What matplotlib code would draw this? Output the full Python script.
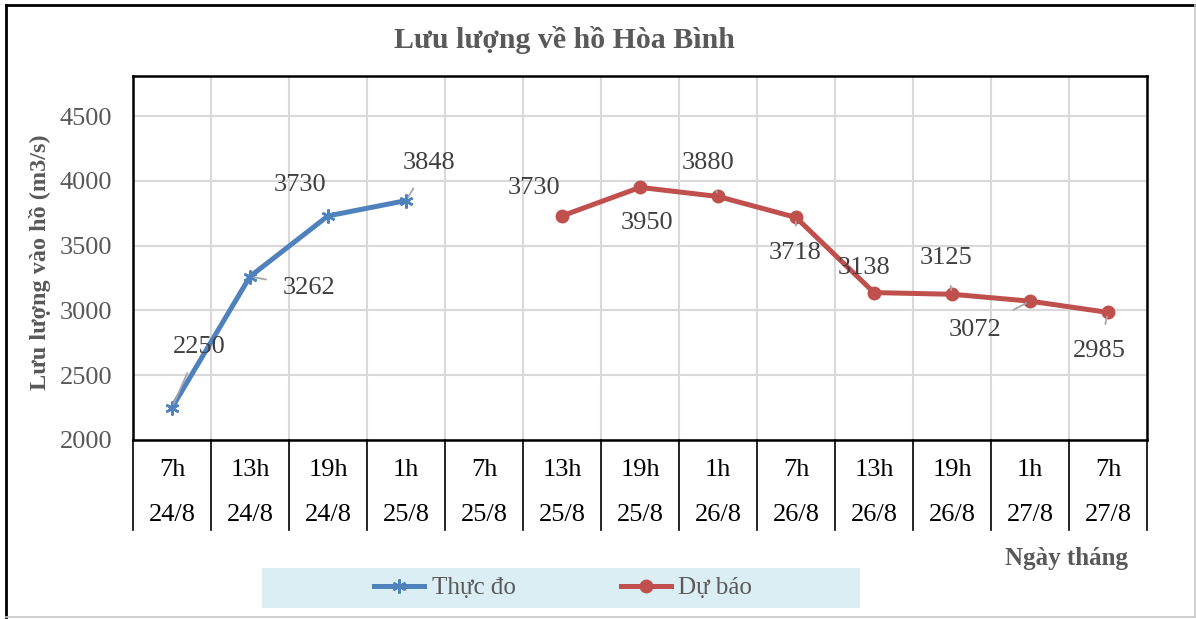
import matplotlib
matplotlib.use('Agg')
import matplotlib.pyplot as plt
from matplotlib.lines import Line2D
from matplotlib.patches import Rectangle

plt.rcParams['font.family'] = ['Liberation Serif', 'DejaVu Serif']

hours = ['7h', '13h', '19h', '1h', '7h', '13h', '19h', '1h', '7h', '13h', '19h', '1h', '7h']
dates = ['24/8', '24/8', '24/8', '25/8', '25/8', '25/8', '25/8', '26/8', '26/8', '26/8', '26/8', '27/8', '27/8']

observed_idx = [0, 1, 2, 3]
observed = [2250, 3262, 3730, 3848]
forecast_idx = [5, 6, 7, 8, 9, 10, 11, 12]
forecast = [3730, 3950, 3880, 3718, 3138, 3125, 3072, 2985]

# label offsets in pixels (dx, dy) and whether a leader line is drawn
obs_offsets = [(27, 61, True), (59, -11, True), (-28, 31, False), (23, 38, True)]
fc_offsets = [(-28, 28, False), (7, -36, False), (-10, 33, True), (-1, -36, True),
              (-10, 25, False), (-6, 36, True), (-55, -29, True), (-9, -39, True)]

blue = '#4F81BD'
red = '#C0504D'
gray_txt = '#404040'

fig = plt.figure(figsize=(11.96, 6.19), dpi=100)
ax = fig.add_axes([133 / 1196, 1 - 440 / 619, (1147 - 133) / 1196, (440 - 76) / 619])

ax.plot(observed_idx, observed, color=blue, lw=3.6, marker=(6, 2, 0), ms=10, mew=1.8,
        label='Thực đo', zorder=3)
ax.plot(forecast_idx, forecast, color=red, lw=3.6, marker='o', ms=9,
        label='Dự báo', zorder=3)

ax.set_xlim(-0.5, len(hours) - 0.5)
ax.set_ylim(2000, 4810)
ax.set_yticks(range(2000, 4501, 500))
ax.set_xticks([i - 0.5 for i in range(len(hours) + 1)])
ax.set_xticklabels([])
ax.tick_params(axis='x', length=0)
ax.tick_params(axis='y', length=0, labelsize=19, labelcolor='#595959', pad=15)
ax.grid(True, color='#D9D9D9', lw=1.5)
ax.set_axisbelow(True)
for s in ax.spines.values():
    s.set_color('black')
    s.set_linewidth(1.8)

# category table under the axis
trans = ax.get_xaxis_transform()
for i in range(len(hours) + 1):
    ax.plot([i - 0.5, i - 0.5], [0, -0.247], color='black', lw=1.2, transform=trans,
            clip_on=False)
for i, (h, d) in enumerate(zip(hours, dates)):
    ax.text(i, -0.082, h, ha='center', va='center', fontsize=19, color='black', transform=trans)
    ax.text(i, -0.206, d, ha='center', va='center', fontsize=19, color='black', transform=trans)


def add_labels(xs, ys, offsets):
    for x, y, (dx, dy, leader) in zip(xs, ys, offsets):
        props = dict(arrowstyle='-', color='#A6A6A6', lw=1.3, shrinkA=10, shrinkB=3) if leader else None
        ax.annotate(str(y), (x, y), xytext=(dx, dy), textcoords='offset pixels',
                    ha='center', va='center', fontsize=19, color=gray_txt,
                    arrowprops=props, zorder=4)


add_labels(observed_idx, observed, obs_offsets)
add_labels(forecast_idx, forecast, fc_offsets)

fig.text(564 / 1196, 1 - 40 / 619, 'Lưu lượng về hồ Hòa Bình', ha='center', va='center',
         fontsize=21.5, fontweight='bold', color='#595959')
fig.text(40 / 1196, 1 - 262 / 619, 'Lưu lượng vào hồ (m3/s)', ha='center', va='center',
         rotation=90, fontsize=17.5, fontweight='bold', color='#595959')
fig.text(1128 / 1196, 1 - 558 / 619, 'Ngày tháng', ha='right', va='center',
         fontsize=18, fontweight='bold', color='#595959')

# legend band
fig.patches.append(Rectangle((262 / 1196, 1 - 608 / 619), (860 - 262) / 1196, 40 / 619,
                             transform=fig.transFigure, facecolor='#DAEEF3', edgecolor='none',
                             zorder=0))
handles = [Line2D([], [], color=blue, lw=3.6, marker=(6, 2, 0), ms=10, mew=1.8),
           Line2D([], [], color=red, lw=3.6, marker='o', ms=9)]
fig.legend(handles, ['Thực đo', 'Dự báo'], loc='center', bbox_to_anchor=(563 / 1196, 1 - 588 / 619),
           ncol=2, frameon=False, fontsize=18, labelcolor='#595959', handlelength=2.0,
           columnspacing=4.2, handletextpad=0.3)

# outer frame
fig.add_artist(Line2D([6 / 1196, 6 / 1196], [1 - 617 / 619, 1 - 5 / 619], color='black', lw=2,
                      transform=fig.transFigure))
fig.add_artist(Line2D([6 / 1196, 1195 / 1196], [1 - 5 / 619, 1 - 5 / 619], color='black', lw=2,
                      transform=fig.transFigure))
fig.add_artist(Line2D([1195 / 1196, 1195 / 1196], [1 - 617 / 619, 1 - 5 / 619], color='#C8C8C8',
                      lw=1.2, transform=fig.transFigure))
fig.add_artist(Line2D([6 / 1196, 1195 / 1196], [1 - 617 / 619, 1 - 617 / 619], color='#C8C8C8',
                      lw=1.2, transform=fig.transFigure))

fig.savefig('out.png', dpi=100)
